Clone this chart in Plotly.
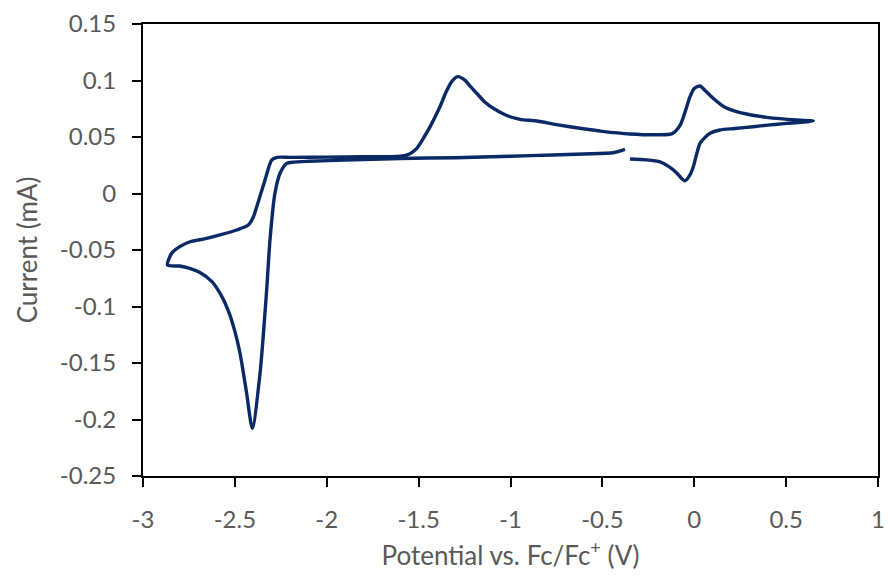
import plotly.graph_objects as go

# Cyclic voltammogram, one continuous scan starting near -0.38 V
potential = [
    -0.377, -0.44, -0.60, -0.77, -1.00, -1.30, -1.60, -1.90, -2.10, -2.18,
    -2.218, -2.254, -2.282, -2.309, -2.327, -2.363, -2.405,
    -2.436, -2.472, -2.50, -2.535, -2.575, -2.625, -2.69, -2.75, -2.80, -2.866,
    -2.844, -2.80, -2.744, -2.66, -2.581, -2.49, -2.427, -2.40, -2.381,
    -2.336, -2.30, -2.27, -2.20, -2.00, -1.80, -1.60, -1.55, -1.51,
    -1.47, -1.438, -1.41, -1.384, -1.35, -1.32, -1.287, -1.25, -1.22,
    -1.184, -1.14, -1.094, -1.02, -0.948, -0.857, -0.75, -0.622, -0.50,
    -0.35, -0.20, -0.12, -0.078, -0.05, -0.023, 0.0, 0.031, 0.06, 0.104,
    0.16, 0.231, 0.31, 0.394, 0.557, 0.648,
    0.60, 0.503, 0.40, 0.321, 0.22, 0.14, 0.086, 0.055, 0.031, 0.01,
    -0.005, -0.025, -0.05, -0.07, -0.095, -0.14, -0.186, -0.26, -0.35,
]
current = [
    0.039, 0.0361, 0.035, 0.0341, 0.033, 0.0317, 0.031, 0.0295, 0.0285, 0.0278,
    0.0267, 0.0179, 0.0002, -0.0412, -0.0854, -0.159, -0.2078,
    -0.1768, -0.1414, -0.122, -0.104, -0.090, -0.078, -0.0700, -0.0660, -0.0642, -0.0633,
    -0.0529, -0.047, -0.0427, -0.040, -0.0367, -0.0323, -0.0279, -0.021, -0.0117,
    0.0119, 0.0296, 0.032, 0.032, 0.0322, 0.0325, 0.033, 0.035, 0.040,
    0.050, 0.059, 0.068, 0.0768, 0.090, 0.099, 0.1034, 0.1005, 0.095,
    0.0887, 0.081, 0.0754, 0.069, 0.0656, 0.0642, 0.061, 0.0577, 0.055,
    0.0527, 0.052, 0.053, 0.060, 0.072, 0.0857, 0.093, 0.0951, 0.091, 0.0842,
    0.077, 0.0724, 0.0695, 0.0674, 0.065, 0.0642,
    0.0632, 0.0621, 0.0605, 0.0591, 0.0575, 0.0562, 0.0533, 0.049, 0.0444, 0.033,
    0.0237, 0.016, 0.0113, 0.0135, 0.0182, 0.0240, 0.0280, 0.0298, 0.0305,
]

x_ticks = [-3, -2.5, -2, -1.5, -1, -0.5, 0, 0.5, 1]
x_tick_text = ["-3", "-2.5", "-2", "-1.5", "-1", "-0.5", "0", "0.5", "1"]
y_ticks = [-0.25, -0.2, -0.15, -0.1, -0.05, 0, 0.05, 0.1, 0.15]
y_tick_text = ["-0.25", "-0.2", "-0.15", "-0.1", "-0.05", "0", "0.05", "0.1", "0.15"]

text_grey = "#595959"
font_family = "Lato"

fig = go.Figure(
    go.Scatter(
        x=potential,
        y=current,
        mode="lines",
        line=dict(color="#0a2a66", width=3.4, shape="spline", smoothing=0.7),
        showlegend=False,
    )
)

axis_common = dict(
    showline=True,
    linecolor="black",
    linewidth=2,
    mirror=True,
    showgrid=False,
    zeroline=False,
    ticks="outside",
    ticklen=9,
    tickwidth=2,
    tickcolor="black",
    tickfont=dict(family=font_family, size=24, color=text_grey),
)

fig.update_xaxes(
    range=[-3, 1],
    tickvals=x_ticks,
    ticktext=x_tick_text,
    ticklabelstandoff=12,
    title=dict(
        text="Potential vs. Fc/Fc<sup>+</sup> (V)",
        font=dict(family=font_family, size=26, color=text_grey),
    ),
    **axis_common,
)
fig.update_yaxes(
    range=[-0.25, 0.15],
    tickvals=y_ticks,
    ticktext=y_tick_text,
    ticklabelstandoff=11,
    title=dict(
        text="Current (mA)",
        font=dict(family=font_family, size=26, color=text_grey),
    ),
    **axis_common,
)

fig.update_layout(
    width=888,
    height=584,
    margin=dict(l=143, r=10, t=24, b=108, autoexpand=False),
    paper_bgcolor="white",
    plot_bgcolor="white",
)

fig.write_html("out.html")
